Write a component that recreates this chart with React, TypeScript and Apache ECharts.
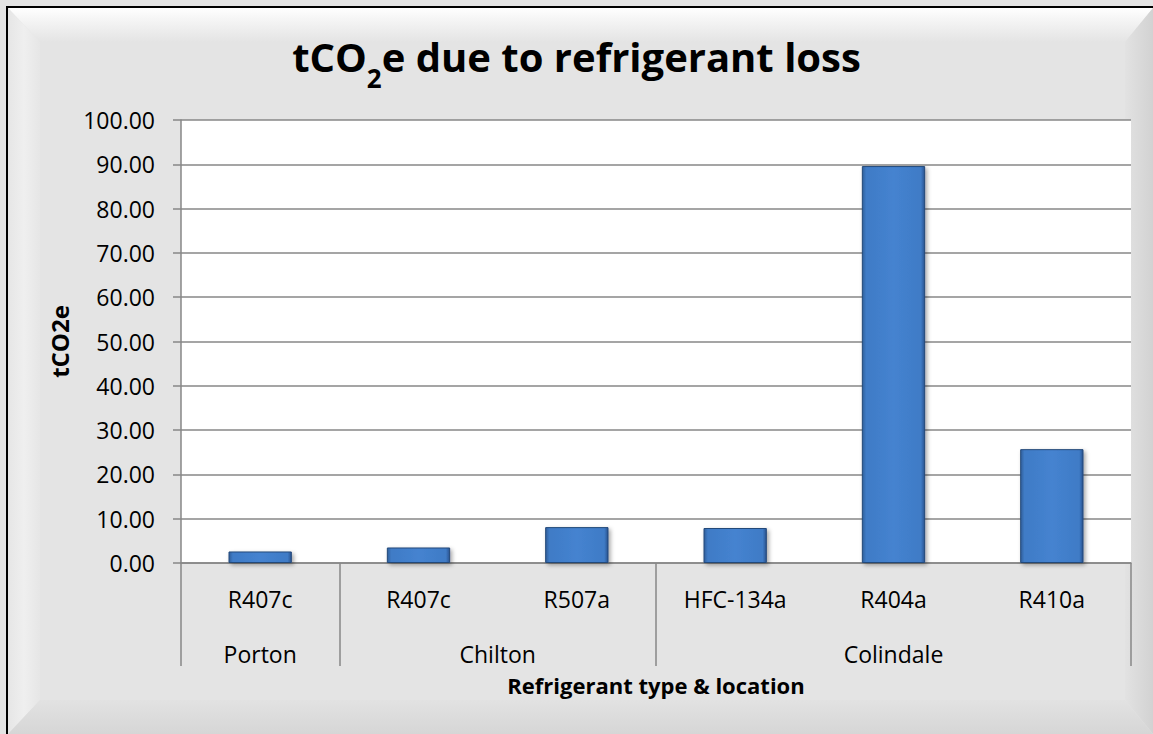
import React, { useEffect, useRef } from "react";
import * as echarts from "echarts";

const refrigerants = ["R407c", "R407c", "R507a", "HFC-134a", "R404a", "R410a"];
const siteOfBar = ["Porton", "Chilton", "Chilton", "Colindale", "Colindale", "Colindale"];
const tonnesCO2e = [2.6, 3.5, 8.1, 7.9, 89.6, 25.7];
const yMin = 0;
const yMax = 100;
const yStep = 10;

const FONT = "'Open Sans', 'Noto Sans', sans-serif";
const GRID_COLOR = "#878787";

function groups() {
  const out: { name: string; start: number; end: number }[] = [];
  siteOfBar.forEach((s, i) => {
    const last = out[out.length - 1];
    if (last && last.name === s) last.end = i + 1;
    else out.push({ name: s, start: i, end: i + 1 });
  });
  return out;
}

export default function App() {
  const ref = useRef<HTMLDivElement>(null);
  useEffect(() => {
    if (!ref.current) return;
    const chart = echarts.init(ref.current, undefined, { renderer: "svg" });
    const W = 1153, H = 734;
    const g = groups();
    const boundaries = [0, ...g.map((x) => x.end)];
    const centers = g.map((x) => (x.start + x.end) / 2);
    const lin = (x1: number, y1: number, x2: number, y2: number, stops: [number, string][]) =>
      new echarts.graphic.LinearGradient(x1, y1, x2, y2, stops.map(([offset, color]) => ({ offset, color })));

    chart.setOption({
      animation: false,
      backgroundColor: "#e4e4e4",
      title: {
        text: "{m|tCO}{sub|2}{m|e due to refrigerant loss}",
        left: "center",
        top: 31,
        textStyle: {
          fontFamily: FONT,
          fontSize: 40,
          fontWeight: "bold",
          color: "#000",
          rich: {
            m: { fontFamily: FONT, fontSize: 40, fontWeight: "bold", color: "#000", lineHeight: 48, verticalAlign: "top" },
            sub: { fontFamily: FONT, fontSize: 26, fontWeight: "bold", color: "#000", lineHeight: 26, verticalAlign: "top", padding: [29, 0, 0, 0] },
          },
        },
      },
      graphic: [
        { type: "rect", z: -10, silent: true, shape: { x: 0, y: 0, width: W, height: H }, style: { fill: "#e4e4e4" } },
        { type: "polygon", z: -9, silent: true, shape: { points: [[8, 8], [W, 8], [W - 28, 42], [40, 42]] }, style: { fill: lin(0, 0, 0, 1, [[0, "#ffffff"], [0.3, "#f6f6f6"], [1, "#e4e4e4"]]) } },
        { type: "polygon", z: -9, silent: true, shape: { points: [[8, 8], [40, 42], [40, H - 34], [8, H]] }, style: { fill: lin(0, 0, 1, 0, [[0, "#e6e6e6"], [0.5, "#efefef"], [1, "#e6e6e6"]]) } },
        { type: "polygon", z: -9, silent: true, shape: { points: [[W, 8], [W, H], [W - 28, H - 34], [W - 28, 42]] }, style: { fill: lin(0, 0, 1, 0, [[0, "#e2e2e2"], [1, "#d2d2d2"]]) } },
        { type: "polygon", z: -9, silent: true, shape: { points: [[8, H], [W, H], [W - 28, H - 34], [40, H - 34]] }, style: { fill: lin(0, 0, 0, 1, [[0, "#e2e2e2"], [1, "#d6d6d6"]]) } },
        { type: "line", z: -8, silent: true, shape: { x1: 6, y1: 7, x2: W, y2: 7 }, style: { stroke: "#000", lineWidth: 2 } },
        { type: "line", z: -8, silent: true, shape: { x1: 7, y1: 6, x2: 7, y2: H }, style: { stroke: "#000", lineWidth: 2 } },
      ],
      grid: {
        left: 181,
        right: 22,
        top: 120,
        bottom: 171,
        show: true,
        backgroundColor: "#ffffff",
        borderWidth: 0,
      },
      xAxis: [
        {
          type: "category",
          data: refrigerants,
          position: "bottom",
          axisLine: { show: true, lineStyle: { color: GRID_COLOR, width: 1.5 } },
          axisTick: { show: false },
          axisLabel: { fontFamily: FONT, fontSize: 23, color: "#000", margin: 24, interval: 0 },
          name: "Refrigerant type & location",
          nameLocation: "middle",
          nameGap: 111,
          nameTextStyle: { fontFamily: FONT, fontSize: 22, fontWeight: "bold", color: "#000" },
        },
        {
          type: "value",
          min: 0,
          max: refrigerants.length,
          position: "bottom",
          axisLine: { show: false },
          splitLine: { show: false },
          axisTick: {
            show: true,
            customValues: boundaries,
            length: 103,
            lineStyle: { color: GRID_COLOR, width: 1.5 },
          },
          axisLabel: {
            show: true,
            customValues: centers,
            margin: 79,
            fontFamily: FONT,
            fontSize: 23,
            color: "#000",
            formatter: (v: number) => {
              const idx = centers.findIndex((c) => Math.abs(c - v) < 1e-6);
              return idx >= 0 ? g[idx].name : "";
            },
          },
        },
      ],
      yAxis: {
        type: "value",
        min: yMin,
        max: yMax,
        interval: yStep,
        axisLine: { show: true, lineStyle: { color: GRID_COLOR, width: 1.5 } },
        axisTick: { show: true, length: 8, lineStyle: { color: GRID_COLOR, width: 1.5 } },
        splitLine: { show: true, lineStyle: { color: GRID_COLOR, width: 1.5 } },
        axisLabel: {
          fontFamily: FONT,
          fontSize: 23,
          color: "#000",
          margin: 26,
          formatter: (v: number) => v.toFixed(2),
        },
        name: "tCO2e",
        nameLocation: "middle",
        nameRotate: 90,
        nameGap: 110,
        nameMoveOverlap: false,
        nameTextStyle: { fontFamily: FONT, fontSize: 24, fontWeight: "bold", color: "#000" },
      },
      series: [
        {
          type: "bar",
          data: tonnesCO2e,
          xAxisIndex: 0,
          barWidth: "40%",
          itemStyle: {
            color: lin(0, 0, 1, 0, [
              [0, "#2f5e9a"],
              [0.06, "#3f7bc6"],
              [0.5, "#4583d0"],
              [0.94, "#3f7bc6"],
              [1, "#2a5490"],
            ]),
            borderColor: "#24497a",
            borderWidth: 1,
            shadowColor: "rgba(0,0,0,0.35)",
            shadowBlur: 4,
            shadowOffsetX: 2,
            shadowOffsetY: 2,
          },
        },
      ],
    });
    return () => chart.dispose();
  }, []);
  return <div ref={ref} style={{ position: "absolute", left: 0, top: 0, width: 1153, height: 734 }} />;
}
